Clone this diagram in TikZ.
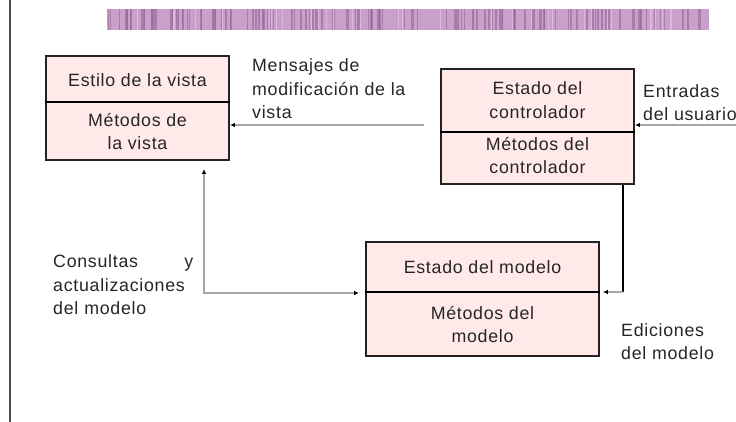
\documentclass[tikz,border=0pt]{standalone}
\usepackage{fontspec}
\setmainfont{Liberation Sans}[LetterSpace=4]
\usetikzlibrary{arrows.meta,calc}
\definecolor{boxfill}{HTML}{FFE9E9}
\definecolor{boxline}{HTML}{222222}
\definecolor{txt}{HTML}{262626}
\definecolor{connc}{HTML}{A6A6A6}
\definecolor{barfill}{HTML}{C9A0C9}
\definecolor{bardark}{HTML}{956595}
\definecolor{barlight}{HTML}{DDB8DD}
\tikzset{
  boxnode/.style={draw=boxline, fill=boxfill, line width=1.8pt, inner sep=0pt},
  lbl/.style={text=txt, font=\fontsize{17.8}{23.5}\selectfont, inner sep=0pt, align=center},
  lbll/.style={text=txt, font=\fontsize{17.8}{23.5}\selectfont, inner sep=0pt, align=left, anchor=west},
  conn/.style={draw=connc, line width=1.5pt, -{Latex[length=5pt,width=4.5pt,color=black]}},
  connboth/.style={draw=connc, line width=1.5pt, {Latex[length=5pt,width=4.5pt,color=black]}-{Latex[length=5pt,width=4.5pt,color=black]}},
  darkline/.style={draw=black, line width=1.8pt}
}
\begin{document}
\begin{tikzpicture}[x=1pt,y=-1pt]
\useasboundingbox (0,0) rectangle (736,422);
\fill[white] (0,0) rectangle (736,422);
% left rule
\draw[line width=2pt, draw=black!70] (10,0) -- (10,422);
% striped bar
\fill[barfill] (107,9) rectangle (709,30);
\pgfmathsetseed{7}
\foreach \i in {1,...,130}{
  \pgfmathsetmacro{\xx}{108+rnd*600}
  \pgfmathsetmacro{\ww}{0.6+rnd*1.6}
  \draw[bardark, opacity=0.6, line width=\ww pt] (\xx,9) -- (\xx,30);
}
\foreach \i in {1,...,30}{
  \pgfmathsetmacro{\xx}{108+rnd*600}
  \draw[barlight, line width=1.2pt] (\xx,9) -- (\xx,30);
}
% boxes
\node[boxnode, minimum width=183pt, minimum height=104pt] (vista) at (137.5,108) {};
\draw[darkline] (vista.west |- 0,102) -- (vista.east |- 0,102);
\node[boxnode, minimum width=193pt, minimum height=115pt] (ctrl) at (537.5,126.5) {};
\draw[darkline] (ctrl.west |- 0,132) -- (ctrl.east |- 0,132);
\node[boxnode, minimum width=233pt, minimum height=114pt] (model) at (482.5,299) {};
\draw[darkline] (model.west |- 0,292) -- (model.east |- 0,292);
% box texts
\node[lbl] (t1) at (137.5,80) {Estilo de la vista};
\node[lbl] (t2) at (137.5,131.5) {Métodos de\\ la vista};
\node[lbl] (t3) at (537.5,100) {Estado del\\ controlador};
\node[lbl] (t4) at (537.5,155.5) {Métodos del\\ controlador};
\node[lbl] (t5) at (482.5,267) {Estado del modelo};
\node[lbl] (t6) at (482.5,324.5) {Métodos del\\ modelo};
% free labels
\node[lbll] (l1) at (252,89) {Mensajes de\\ modificación de la\\ vista};
\node[lbll] (l2) at (643,102.5) {Entradas\\ del usuario};
\node[lbll] (l3) at (621,341.5) {Ediciones\\ del modelo};
\node[lbll, text width=140pt] (l4) at (53,285) {Consultas\hfill y\\ actualizaciones\\ del modelo};
% connectors
\coordinate (c1) at (424,125);
\coordinate (c2) at (736,125);
\coordinate (c3) at (623,292);
\coordinate (c4) at (204,293);
\draw[conn] (c1) -- (vista.east |- c1);
\draw[conn] (c2) -- (ctrl.east |- c2);
\draw[darkline] (ctrl.south -| c3) -- (c3);
\draw[conn, shorten >=3pt] (c3) -- (model.east |- c3);
\draw[connboth, shorten <=8pt, shorten >=6pt] (vista.south -| c4) |- (model.west |- c4);
\end{tikzpicture}
\end{document}
